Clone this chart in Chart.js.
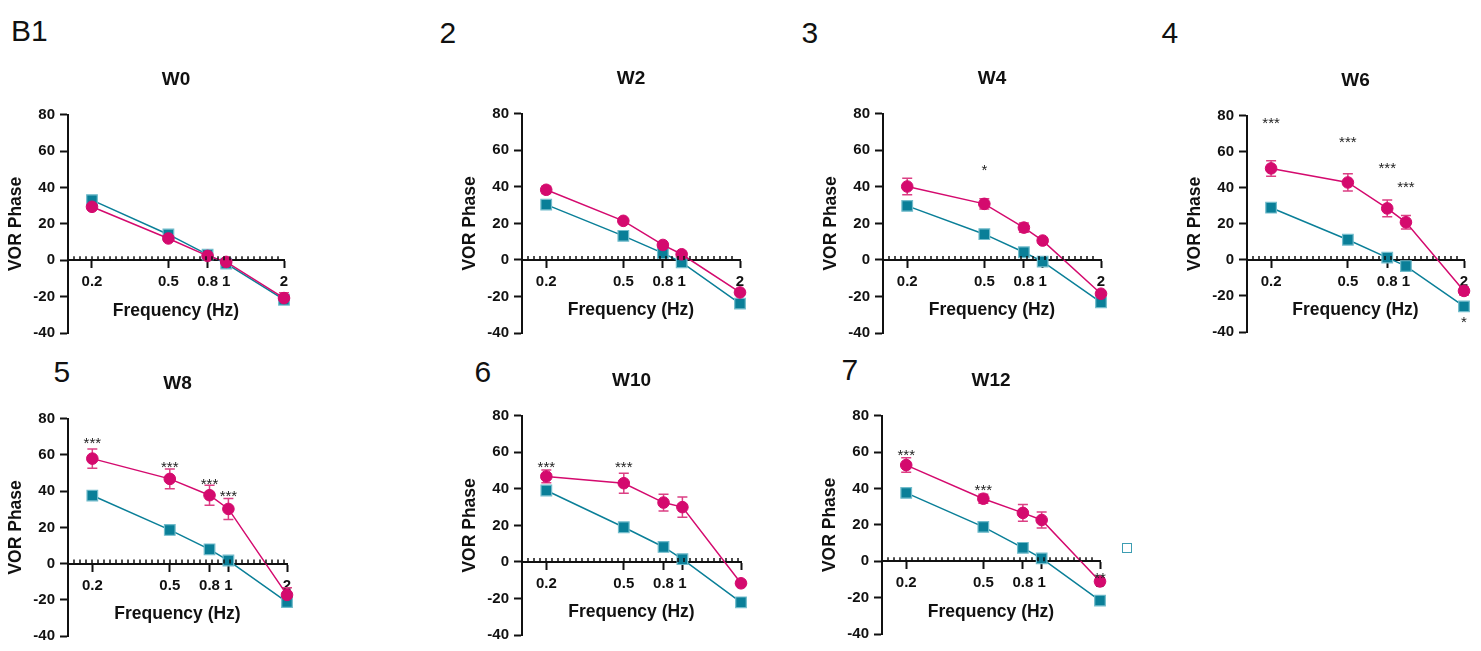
<!DOCTYPE html>
<html>
<head>
<meta charset="utf-8">
<script src="https://cdn.jsdelivr.net/npm/chart.js@4.4.0/dist/chart.umd.min.js"></script>
<style>
  html, body { margin: 0; padding: 0; background: #fff; }
  body { width: 1481px; height: 651px; position: relative; overflow: hidden; font-family: "Liberation Sans", Arial, sans-serif; }
  canvas { position: absolute; }
  .tag { position: absolute; font-size: 30px; line-height: 30px; color: #111; }
  .legend-box { position: absolute; left: 1122px; top: 543px; width: 8px; height: 8px; border: 1.5px solid #3d9db2; background: #fff; }
</style>
</head>
<body>
<div class="legend-box"></div>
<script>
// frequencies (Hz) and axis ticks
const freqs = [0.2, 0.5, 0.8, 1, 2];
const freqTicks = [0.2, 0.5, 0.8, 1, 2];
const yTicks = [-40, -20, 0, 20, 40, 60, 80];
const weekTitles = ["W0", "W2", "W4", "W6", "W8", "W10", "W12"];
const panelTags = ["B1", "2", "3", "4", "5", "6", "7"];

// VOR phase, one row per week
const tealPhase = [
    [33.1, 14.2, 3.1, -1.8, -21.7],
    [30.3, 13.2, 3.7, -1.3, -23.9],
    [29.6, 14.1, 4.2, -0.9, -23.2],
    [29.0, 11.2, 1.3, -3.4, -25.8],
    [37.6, 18.6, 7.9, 1.7, -21.3],
    [39.1, 19.0, 8.2, 1.5, -22.1],
    [37.6, 18.9, 7.4, 1.6, -21.6],
];
const pinkPhase = [
    [29.4, 12.0, 2.4, -0.9, -20.8],
    [38.4, 21.4, 8.2, 3.1, -17.8],
    [40.2, 30.7, 17.7, 10.6, -18.5],
    [50.8, 43.0, 28.6, 20.9, -17.2],
    [58.0, 46.8, 37.8, 30.2, -17.3],
    [46.8, 43.1, 32.5, 30.0, -11.7],
    [52.9, 34.4, 26.6, 22.7, -11.1],
];
const pinkErr = [
    [1.5, 1, 1, 1, 3],
    [2, 1, 1, 1, 1.5],
    [4.5, 2.8, 2.5, 1, 1.5],
    [4.3, 4.8, 4.6, 3.8, 2.2],
    [5.3, 5.5, 5.5, 5.8, 4],
    [3.5, 5.5, 4.6, 5.5, 1.5],
    [4, 2.5, 4.6, 4.4, 2],
];
// significance marks: [frequency, phase, text]
const starMarks = [
    [],
    [],
    [[0.5, 51, "*"]],
    [[0.2, 78, "***"], [0.5, 67.6, "***"], [0.8, 52.9, "***"], [1, 42.4, "***"], [2, -32.7, "*"]],
    [[0.2, 68.4, "***"], [0.5, 55.1, "***"], [0.8, 45.9, "***"], [1, 39.3, "***"]],
    [[0.2, 54, "***"], [0.5, 54, "***"]],
    [[0.2, 60.4, "***"], [0.5, 40.9, "***"], [2, -7.3, "**"]],
];

const PINK = "#d40a6e";
const TEAL = "#0a7f98";

// where each panel's plot area sits on the page
const panels = [
    { ax: 67.7, right: 284, top: 115, bottom: 333, tagX: 11, tagY: 16 },
    { ax: 522, right: 740, top: 114, bottom: 333, tagX: 439.5, tagY: 18 },
    { ax: 883.3, right: 1101, top: 114, bottom: 333, tagX: 801.5, tagY: 18 },
    { ax: 1247.3, right: 1464, top: 116, bottom: 332, tagX: 1161.5, tagY: 18 },
    { ax: 67.5, right: 286, top: 419, bottom: 636, tagX: 53.5, tagY: 357 },
    { ax: 522.3, right: 741, top: 416, bottom: 635, tagX: 474.5, tagY: 357 },
    { ax: 881.7, right: 1100, top: 416, bottom: 634.5, tagX: 841.5, tagY: 355 },
];
const Y_AXIS_W = 62;
const TITLE_H = 50.8;
const PAD_R = 14;
const PAD_B = 14;

Chart.defaults.font.family = '"Liberation Sans", Arial, sans-serif';
Chart.defaults.color = "#111";

const errorBars = {
    id: "errorBars",
    beforeDatasetsDraw(chart) {
        const { ctx, scales } = chart;
        chart.data.datasets.forEach((ds) => {
            if (!ds.errors) return;
            ctx.save();
            ctx.strokeStyle = ds.errorColor;
            ctx.lineWidth = 1.5;
            ds.data.forEach((pt, i) => {
                const e = ds.errors[i];
                const px = scales.x.getPixelForValue(pt.x);
                const hi = scales.y.getPixelForValue(pt.y + e);
                const lo = scales.y.getPixelForValue(pt.y - e);
                ctx.beginPath();
                ctx.moveTo(px, hi); ctx.lineTo(px, lo);
                ctx.moveTo(px - 5, hi); ctx.lineTo(px + 5, hi);
                ctx.moveTo(px - 5, lo); ctx.lineTo(px + 5, lo);
                ctx.stroke();
            });
            ctx.restore();
        });
    },
};

const starText = {
    id: "starText",
    afterDatasetsDraw(chart, args, opts) {
        const { ctx, scales } = chart;
        ctx.save();
        ctx.font = '15px "Liberation Sans", Arial, sans-serif';
        ctx.fillStyle = "#222";
        ctx.textAlign = "center";
        ctx.textBaseline = "alphabetic";
        (opts.marks || []).forEach(([f, v, t]) => {
            ctx.fillText(t, scales.x.getPixelForValue(f), scales.y.getPixelForValue(v) + 8.5);
        });
        ctx.restore();
    },
};

// small minor ticks along the zero line
const minorTicks = {
    id: "minorTicks",
    afterDraw(chart) {
        const { ctx, scales } = chart;
        const y0 = scales.y.getPixelForValue(0);
        ctx.save();
        ctx.strokeStyle = "#111";
        ctx.lineWidth = 1.5;
        ctx.beginPath();
        for (let px = scales.x.left + 6; px < scales.x.right - 2; px += 6) {
            ctx.moveTo(px, y0 - 4);
            ctx.lineTo(px, y0);
        }
        ctx.stroke();
        ctx.restore();
    },
};

panels.forEach((p, i) => {
    const tag = document.createElement("div");
    tag.className = "tag";
    tag.style.left = p.tagX + "px";
    tag.style.top = p.tagY + "px";
    tag.textContent = panelTags[i];
    document.body.appendChild(tag);

    const canvas = document.createElement("canvas");
    const left = Math.round(p.ax - Y_AXIS_W);
    const top = Math.round(p.top - TITLE_H);
    const w = Math.round(p.right - p.ax + Y_AXIS_W + PAD_R);
    const h = Math.round(p.bottom - p.top + TITLE_H + PAD_B);
    canvas.width = w;
    canvas.height = h;
    canvas.style.left = left + "px";
    canvas.style.top = top + "px";
    canvas.style.width = w + "px";
    canvas.style.height = h + "px";
    document.body.appendChild(canvas);

    new Chart(canvas, {
        type: "line",
        data: {
            datasets: [
                {
                    label: "pink",
                    data: freqs.map((f, k) => ({ x: f, y: pinkPhase[i][k] })),
                    errors: pinkErr[i],
                    errorColor: "#dc3f84",
                    clip: false,
                    borderColor: PINK,
                    backgroundColor: PINK,
                    borderWidth: 1.5,
                    pointStyle: "circle",
                    pointRadius: 5.8,
                    pointBorderColor: PINK,
                    pointBorderWidth: 1,
                    pointBackgroundColor: PINK,
                },
                {
                    label: "teal",
                    data: freqs.map((f, k) => ({ x: f, y: tealPhase[i][k] })),
                    clip: false,
                    borderColor: TEAL,
                    backgroundColor: TEAL,
                    borderWidth: 1.5,
                    pointStyle: "rect",
                    pointRadius: 7.5,
                    pointBorderColor: "#72bccb",
                    pointBorderWidth: 1.2,
                    pointBackgroundColor: TEAL,
                },
            ],
        },
        options: {
            responsive: false,
            animation: false,
            events: [],
            layout: { padding: { left: 0, top: 0, right: PAD_R, bottom: PAD_B } },
            scales: {
                x: {
                    type: "logarithmic",
                    min: 0.15,
                    max: 2,
                    position: { y: 0 },
                    afterBuildTicks: (s) => { s.ticks = freqTicks.map((v) => ({ value: v })); },
                    ticks: {
                        autoSkip: false,
                        maxRotation: 0,
                        padding: 6,
                        font: { size: 15, weight: "bold" },
                        color: "#111",
                        callback: (v) => String(v),
                    },
                    grid: { drawOnChartArea: false, tickLength: 7, tickWidth: 2, tickColor: "#111" },
                    border: { color: "#111", width: 2 },
                    title: {
                        display: true,
                        text: "Frequency (Hz)",
                        font: { size: 17.5, weight: "bold" },
                        padding: { top: 3, bottom: 0 },
                        color: "#111",
                    },
                },
                y: {
                    min: -40,
                    max: 80,
                    afterBuildTicks: (s) => { s.ticks = yTicks.map((v) => ({ value: v })); },
                    afterFit: (s) => { s.width = Y_AXIS_W; },
                    ticks: { padding: 5, font: { size: 15, weight: "bold" }, color: "#111" },
                    grid: { drawOnChartArea: false, tickLength: 8, tickWidth: 2, tickColor: "#111" },
                    border: { color: "#111", width: 2 },
                    title: {
                        display: true,
                        text: "VOR Phase",
                        font: { size: 17.5, weight: "bold" },
                        padding: 0,
                        color: "#111",
                    },
                },
            },
            plugins: {
                legend: { display: false },
                tooltip: { enabled: false },
                title: {
                    display: true,
                    text: weekTitles[i],
                    fullSize: false,
                    font: { size: 19, weight: "bold" },
                    padding: { top: 4, bottom: 24 },
                    color: "#111",
                },
                starText: { marks: starMarks[i] },
            },
        },
        plugins: [errorBars, starText, minorTicks],
    });
});
</script>
</body>
</html>
